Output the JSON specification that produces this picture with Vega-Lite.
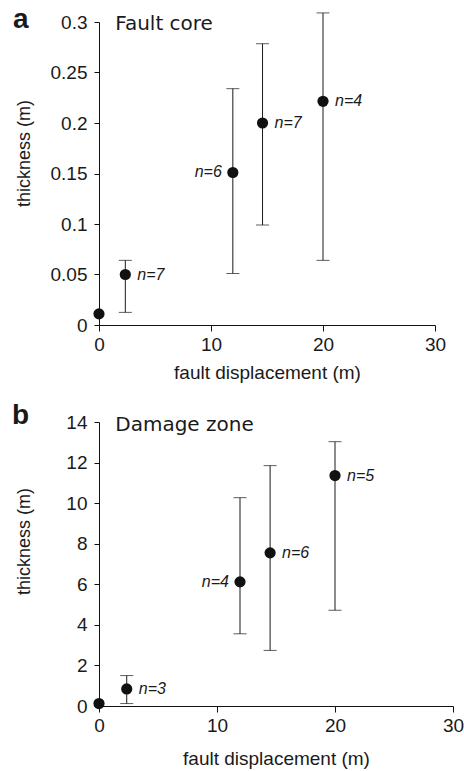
{
  "$schema": "https://vega.github.io/schema/vega-lite/v6.json",
  "padding": {"left": 12, "top": 6, "right": 4, "bottom": 4},
  "spacing": 20,
  "background": "white",
  "config": {
    "view": {"stroke": null},
    "font": "Liberation Sans",
    "axis": {
      "grid": false,
      "labelFlush": false,
      "domainColor": "#111111",
      "domainWidth": 1,
      "tickColor": "#111111",
      "tickWidth": 1,
      "labelFont": "Liberation Sans",
      "labelFontSize": 19,
      "labelColor": "#1a1a1a",
      "titleFont": "Liberation Sans",
      "titleFontWeight": "normal",
      "titleColor": "#1a1a1a"
    },
    "axisX": {"tickSize": 6, "labelPadding": 4, "titleFontSize": 19, "titlePadding": 9},
    "axisY": {"tickSize": 5, "labelPadding": 7, "titleFontSize": 18},
    "title": {"font": "Liberation Sans", "fontWeight": "bold", "fontSize": 28, "color": "#1a1a1a", "anchor": "start", "frame": "group"}
  },
  "datasets": {
    "core": [
      {"disp": 0, "thick": 0.011, "lo": null, "hi": null, "n": null},
      {"disp": 2.35, "thick": 0.05, "lo": 0.0125, "hi": 0.064, "n": "n=7"},
      {"disp": 11.95, "thick": 0.151, "lo": 0.051, "hi": 0.234, "n": "n=6"},
      {"disp": 14.6, "thick": 0.2, "lo": 0.099, "hi": 0.2785, "n": "n=7"},
      {"disp": 20, "thick": 0.2215, "lo": 0.064, "hi": 0.309, "n": "n=4"}
    ],
    "damage": [
      {"disp": 0, "thick": 0.12, "lo": null, "hi": null, "n": null},
      {"disp": 2.35, "thick": 0.84, "lo": 0.12, "hi": 1.5, "n": "n=3"},
      {"disp": 11.95, "thick": 6.12, "lo": 3.56, "hi": 10.27, "n": "n=4"},
      {"disp": 14.5, "thick": 7.55, "lo": 2.74, "hi": 11.85, "n": "n=6"},
      {"disp": 20, "thick": 11.36, "lo": 4.72, "hi": 13.03, "n": "n=5"}
    ]
  },
  "resolve": {"scale": {"x": "independent", "y": "independent"}},
  "vconcat": [
    {
      "title": {"text": "a", "offset": 0, "baseline": "alphabetic", "dx": -86, "dy": 44},
      "width": 336,
      "height": 303,
      "data": {"name": "core"},
      "encoding": {
        "x": {
          "field": "disp",
          "type": "quantitative",
          "scale": {"domain": [0, 30], "nice": false, "zero": false},
          "axis": {"values": [0, 10, 20, 30], "title": "fault displacement (m)"}
        }
      },
      "layer": [
        {
          "transform": [{"filter": "datum.lo != null"}],
          "mark": {"type": "errorbar", "color": "#1a1a1a", "thickness": 1, "ticks": {"size": 13, "thickness": 1}},
          "encoding": {
            "y": {
              "field": "lo",
              "type": "quantitative",
              "scale": {"domain": [0, 0.3], "nice": false},
              "axis": {"values": [0, 0.05, 0.1, 0.15, 0.2, 0.25, 0.3], "format": ".2~f", "title": "thickness (m)", "titleX": -70, "titleY": 131, "titleBaseline": "alphabetic"}
            },
            "y2": {"field": "hi"}
          }
        },
        {
          "mark": {"type": "circle", "size": 125, "opacity": 1, "color": "#111111"},
          "encoding": {"y": {"field": "thick", "type": "quantitative", "title": "thickness (m)"}}
        },
        {
          "transform": [{"filter": "datum.n != null && datum.disp != 11.95"}],
          "mark": {"type": "text", "align": "left", "baseline": "middle", "dx": 12, "fontStyle": "italic", "fontSize": 16, "color": "#1a1a1a"},
          "encoding": {"y": {"field": "thick", "type": "quantitative", "title": "thickness (m)"}, "text": {"field": "n"}}
        },
        {
          "transform": [{"filter": "datum.disp == 11.95"}],
          "mark": {"type": "text", "align": "right", "baseline": "middle", "dx": -11, "fontStyle": "italic", "fontSize": 16, "color": "#1a1a1a"},
          "encoding": {"y": {"field": "thick", "type": "quantitative", "title": "thickness (m)"}, "text": {"field": "n"}}
        },
        {
          "transform": [{"filter": "datum.disp == 0"}],
          "mark": {"type": "text", "align": "left", "baseline": "alphabetic", "dy": 8, "font": "DejaVu Sans", "fontSize": 20, "color": "#1a1a1a", "text": "Fault core"},
          "encoding": {
            "x": {"datum": 1.45, "type": "quantitative"},
            "y": {"datum": 0.3, "type": "quantitative"}
          }
        }
      ]
    },
    {
      "title": {"text": "b", "offset": 0, "baseline": "alphabetic", "dx": -87, "dy": 39},
      "width": 354,
      "height": 284,
      "data": {"name": "damage"},
      "encoding": {
        "x": {
          "field": "disp",
          "type": "quantitative",
          "scale": {"domain": [0, 30], "nice": false, "zero": false},
          "axis": {"values": [0, 10, 20, 30], "title": "fault displacement (m)", "titlePadding": 14}
        }
      },
      "layer": [
        {
          "transform": [{"filter": "datum.lo != null"}],
          "mark": {"type": "errorbar", "color": "#1a1a1a", "thickness": 1, "ticks": {"size": 13, "thickness": 1}},
          "encoding": {
            "y": {
              "field": "lo",
              "type": "quantitative",
              "scale": {"domain": [0, 14], "nice": false},
              "axis": {"values": [0, 2, 4, 6, 8, 10, 12, 14], "title": "thickness (m)", "titleX": -70, "titleY": 119, "titleBaseline": "alphabetic"}
            },
            "y2": {"field": "hi"}
          }
        },
        {
          "mark": {"type": "circle", "size": 125, "opacity": 1, "color": "#111111"},
          "encoding": {"y": {"field": "thick", "type": "quantitative", "title": "thickness (m)"}}
        },
        {
          "transform": [{"filter": "datum.n != null && datum.disp != 11.95"}],
          "mark": {"type": "text", "align": "left", "baseline": "middle", "dx": 12, "fontStyle": "italic", "fontSize": 16, "color": "#1a1a1a"},
          "encoding": {"y": {"field": "thick", "type": "quantitative", "title": "thickness (m)"}, "text": {"field": "n"}}
        },
        {
          "transform": [{"filter": "datum.disp == 11.95"}],
          "mark": {"type": "text", "align": "right", "baseline": "middle", "dx": -11, "fontStyle": "italic", "fontSize": 16, "color": "#1a1a1a"},
          "encoding": {"y": {"field": "thick", "type": "quantitative", "title": "thickness (m)"}, "text": {"field": "n"}}
        },
        {
          "transform": [{"filter": "datum.disp == 0"}],
          "mark": {"type": "text", "align": "left", "baseline": "alphabetic", "dy": 9, "font": "DejaVu Sans", "fontSize": 20, "color": "#1a1a1a", "text": "Damage zone"},
          "encoding": {
            "x": {"datum": 1.38, "type": "quantitative"},
            "y": {"datum": 14, "type": "quantitative"}
          }
        }
      ]
    }
  ]
}
